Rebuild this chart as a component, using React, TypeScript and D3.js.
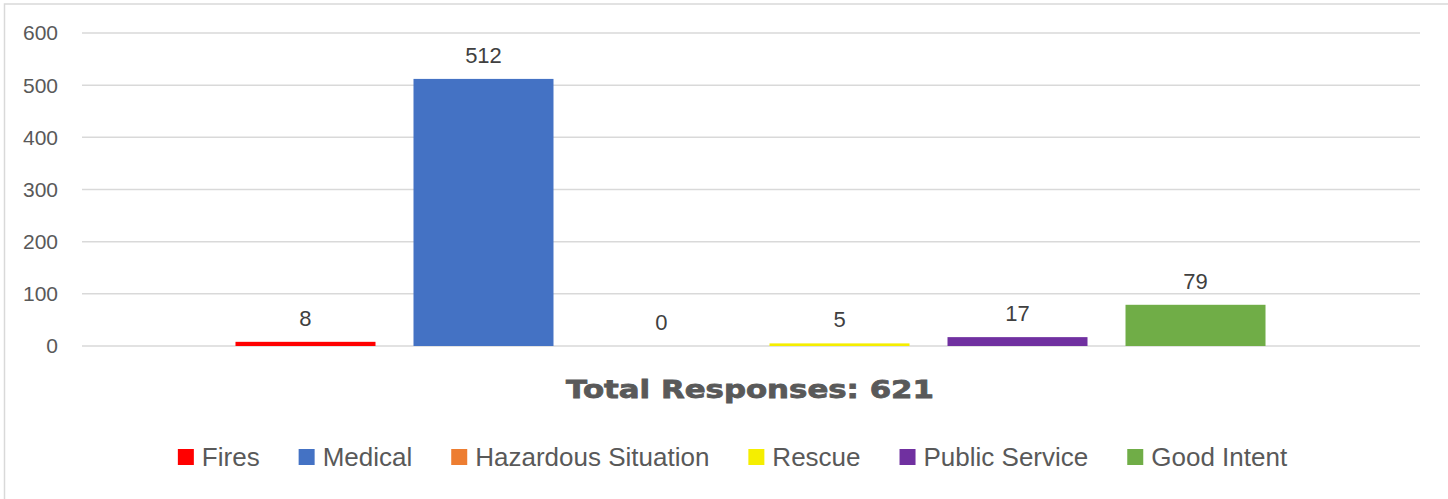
import React, { useEffect, useRef } from "react";
import * as d3 from "d3";

const categories = ["Fires", "Medical", "Hazardous Situation", "Rescue", "Public Service", "Good Intent"];
const values = [8, 512, 0, 5, 17, 79];
const colors = ["#FF0000", "#4472C4", "#ED7D31", "#F5EE00", "#7030A0", "#70AD47"];
const yTicks = [0, 100, 200, 300, 400, 500, 600];
const titleText = "Total Responses: 621";

const W = 1448;
const H = 499;

export default function App() {
  const ref = useRef<SVGSVGElement | null>(null);

  useEffect(() => {
    document.body.style.margin = "0";
    const svg = d3.select(ref.current);
    svg.selectAll("*").remove();

    const plotLeft = 82;
    const plotRight = 1420;
    const y = d3.scaleLinear().domain([0, 600]).range([346, 33]);
    const x = d3
      .scaleBand<string>()
      .domain(categories)
      .range([216.5, 1284.5])
      .paddingInner(0.2135)
      .paddingOuter(0.1067);

    // frame
    svg
      .append("rect")
      .attr("x", 4.5)
      .attr("y", 4)
      .attr("width", W + 20)
      .attr("height", H + 20)
      .attr("fill", "#fff")
      .attr("stroke", "#d9d9d9")
      .attr("stroke-width", 1.5);

    // gridlines
    svg
      .append("g")
      .selectAll("line")
      .data(yTicks)
      .join("line")
      .attr("x1", plotLeft)
      .attr("x2", plotRight)
      .attr("y1", (d) => y(d))
      .attr("y2", (d) => y(d))
      .attr("stroke", "#d9d9d9")
      .attr("stroke-width", 1.5);

    // tick labels
    svg
      .append("g")
      .selectAll("text")
      .data(yTicks)
      .join("text")
      .attr("x", 58)
      .attr("y", (d) => y(d))
      .attr("dy", "0.35em")
      .attr("text-anchor", "end")
      .attr("font-family", "'Liberation Sans', Arial, sans-serif")
      .attr("font-size", 21)
      .attr("fill", "#595959")
      .text((d) => String(d));

    // bars
    svg
      .append("g")
      .selectAll("rect")
      .data(categories)
      .join("rect")
      .attr("x", (d) => x(d) as number)
      .attr("width", x.bandwidth())
      .attr("y", (_d, i) => y(values[i]))
      .attr("height", (_d, i) => y(0) - y(values[i]))
      .attr("fill", (_d, i) => colors[i]);

    // data labels
    svg
      .append("g")
      .selectAll("text")
      .data(categories)
      .join("text")
      .attr("x", (d) => (x(d) as number) + x.bandwidth() / 2)
      .attr("y", (_d, i) => y(values[i]) - 16)
      .attr("text-anchor", "middle")
      .attr("font-family", "'Liberation Sans', Arial, sans-serif")
      .attr("font-size", 22)
      .attr("fill", "#404040")
      .text((_d, i) => String(values[i]));

    // title
    svg
      .append("text")
      .attr("x", 750)
      .attr("y", 398)
      .attr("text-anchor", "middle")
      .attr("font-family", "'DejaVu Sans', sans-serif")
      .attr("font-weight", 900)
      .attr("font-size", 25)
      .attr("fill", "#595959")
      .attr("stroke", "#595959")
      .attr("stroke-width", 0.8)
      .attr("textLength", 368)
      .attr("lengthAdjust", "spacingAndGlyphs")
      .text(titleText);

    // legend
    const legend = svg.append("g");
    const sq = 16;
    const sqGap = 8;
    const itemGap = 39;
    const items = legend
      .selectAll("g")
      .data(categories)
      .join("g");
    items
      .append("rect")
      .attr("width", sq)
      .attr("height", sq)
      .attr("y", 449)
      .attr("fill", (_d, i) => colors[i]);
    const texts = items
      .append("text")
      .attr("x", sq + sqGap)
      .attr("y", 466)
      .attr("font-family", "'Liberation Sans', Arial, sans-serif")
      .attr("font-size", 26)
      .attr("fill", "#595959")
      .text((d) => d);
    const widths: number[] = [];
    texts.each(function () {
      widths.push((this as SVGTextElement).getComputedTextLength());
    });
    const itemWidths = widths.map((w) => sq + sqGap + w);
    const total = d3.sum(itemWidths) + itemGap * (categories.length - 1);
    let cx = 732.5 - total / 2;
    items.attr("transform", (_d, i) => {
      const t = `translate(${cx},0)`;
      cx += itemWidths[i] + itemGap;
      return t;
    });
  }, []);

  return (
    <div style={{ position: "absolute", left: 0, top: 0 }}>
      <svg ref={ref} width={W} height={H} style={{ display: "block" }} />
    </div>
  );
}
